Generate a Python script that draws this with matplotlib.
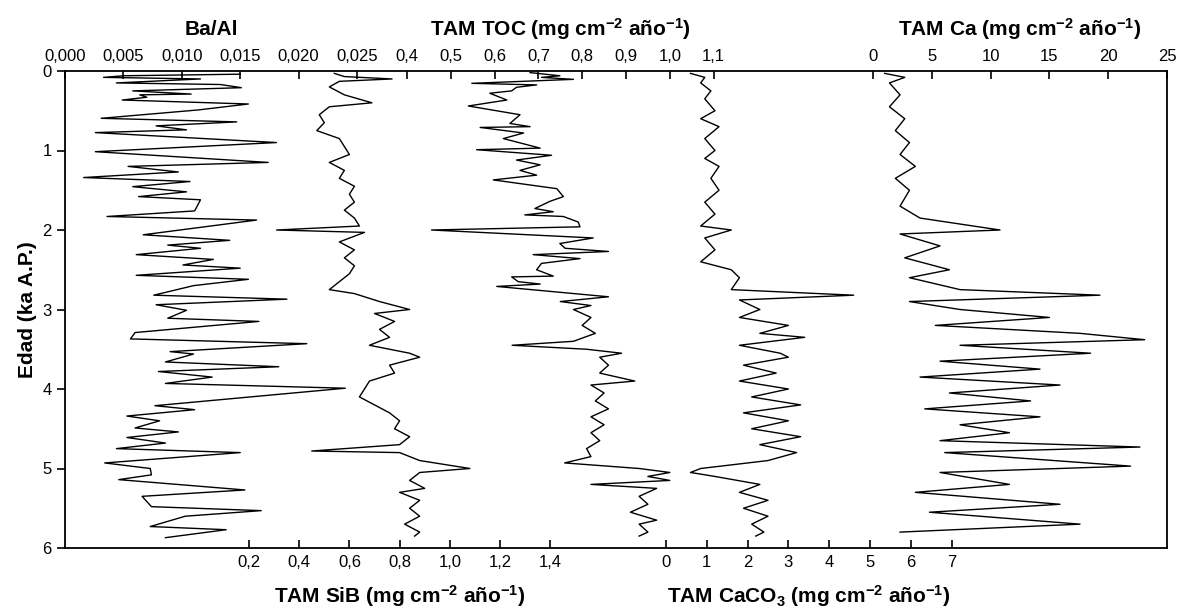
import matplotlib
matplotlib.use("Agg")
from matplotlib import pyplot as plt
from matplotlib.transforms import blended_transform_factory

plt.rcParams['font.family'] = ['Liberation Sans', 'DejaVu Sans']
plt.rcParams['mathtext.fontset'] = 'custom'
plt.rcParams['mathtext.rm'] = 'Liberation Sans:bold'
plt.rcParams['mathtext.it'] = 'Liberation Sans:bold:italic'
plt.rcParams['mathtext.bf'] = 'Liberation Sans:bold'
plt.rcParams['mathtext.default'] = 'rm'

# Ba/Al
baal_age = [0.04, 0.06, 0.08, 0.10, 0.15, 0.17, 0.21, 0.25, 0.29, 0.30, 0.33, 0.365, 0.415, 0.49,
            0.595, 0.64, 0.69, 0.74, 0.775, 0.90, 1.015, 1.15, 1.20, 1.27, 1.34, 1.39, 1.455,
            1.52, 1.58, 1.62, 1.76, 1.83, 1.875, 2.06, 2.13, 2.19, 2.23, 2.31, 2.37, 2.44, 2.48,
            2.57, 2.62, 2.70, 2.82, 2.87, 2.94, 3.01, 3.11, 3.15, 3.29, 3.37, 3.43, 3.53, 3.56,
            3.66, 3.72, 3.78, 3.85, 3.93, 3.99, 4.21, 4.26, 4.34, 4.40, 4.49, 4.54, 4.61, 4.68,
            4.75, 4.80, 4.93, 5.00, 5.08, 5.14, 5.27, 5.35, 5.48, 5.53, 5.60, 5.73, 5.77, 5.87]
baal = [0.0150, 0.0050, 0.0033, 0.0116, 0.0044, 0.0133, 0.0151, 0.0058, 0.0108, 0.0064, 0.0070,
        0.0049, 0.0157, 0.0114, 0.0031, 0.0147, 0.0078, 0.0104, 0.0026, 0.0181, 0.0026, 0.0174,
        0.0054, 0.0097, 0.0016, 0.0107, 0.0058, 0.0104, 0.0063, 0.0116, 0.0111, 0.0036, 0.0164,
        0.0067, 0.0141, 0.0088, 0.0116, 0.0061, 0.0127, 0.0101, 0.0150, 0.0061, 0.0157, 0.0110,
        0.0076, 0.0190, 0.0078, 0.0104, 0.0088, 0.0166, 0.0060, 0.0056, 0.0207, 0.0090, 0.0110,
        0.0086, 0.0183, 0.0080, 0.0126, 0.0086, 0.0240, 0.0077, 0.0111, 0.0053, 0.0081, 0.0060,
        0.0097, 0.0053, 0.0086, 0.0044, 0.0150, 0.0034, 0.0073, 0.0074, 0.0046, 0.0154, 0.0066,
        0.0074, 0.0168, 0.0103, 0.0073, 0.0138, 0.0086]

# TAM TOC
toc_age = [0.02, 0.06, 0.08, 0.105, 0.155, 0.175, 0.205, 0.25, 0.28, 0.365, 0.44, 0.55, 0.66,
           0.70, 0.71, 0.78, 0.85, 0.97, 0.99, 1.06, 1.12, 1.18, 1.25, 1.31, 1.37, 1.48, 1.58,
           1.64, 1.73, 1.77, 1.81, 1.83, 1.90, 1.96, 2.00, 2.10, 2.17, 2.23, 2.27, 2.31, 2.36,
           2.42, 2.50, 2.58, 2.59, 2.65, 2.68, 2.71, 2.84, 2.90, 2.95, 3.00, 3.10, 3.20, 3.30,
           3.40, 3.45, 3.50, 3.55, 3.60, 3.70, 3.80, 3.90, 3.95, 4.05, 4.15, 4.25, 4.35, 4.45,
           4.55, 4.65, 4.75, 4.85, 4.93, 5.00, 5.05, 5.10, 5.15, 5.20, 5.25, 5.35, 5.45, 5.55,
           5.65, 5.70, 5.80, 5.85]
toc = [0.681, 0.749, 0.707, 0.780, 0.548, 0.696, 0.650, 0.639, 0.589, 0.628, 0.540, 0.658,
       0.635, 0.681, 0.567, 0.666, 0.620, 0.704, 0.559, 0.730, 0.650, 0.704, 0.658, 0.696,
       0.597, 0.742, 0.757, 0.726, 0.692, 0.734, 0.669, 0.757, 0.791, 0.795, 0.456, 0.825,
       0.749, 0.761, 0.860, 0.688, 0.795, 0.707, 0.696, 0.734, 0.639, 0.654, 0.704, 0.605,
       0.860, 0.75, 0.82, 0.78, 0.82, 0.80, 0.83, 0.78, 0.64, 0.81, 0.89, 0.84, 0.86, 0.84,
       0.92, 0.82, 0.85, 0.83, 0.86, 0.82, 0.85, 0.82, 0.84, 0.81, 0.82, 0.76, 0.93, 1.00,
       0.95, 1.00, 0.82, 0.97, 0.93, 0.95, 0.91, 0.97, 0.93, 0.95, 0.93]

# TAM Ca
ca_age = [0.03, 0.08, 0.15, 0.3, 0.45, 0.6, 0.75, 0.9, 1.05, 1.2, 1.35, 1.5, 1.7, 1.85, 2.0,
          2.05, 2.2, 2.35, 2.5, 2.6, 2.75, 2.82, 2.9, 3.0, 3.1, 3.2, 3.3, 3.38, 3.45, 3.55,
          3.65, 3.75, 3.85, 3.95, 4.05, 4.15, 4.25, 4.35, 4.45, 4.55, 4.65, 4.73, 4.8, 4.97,
          5.05, 5.2, 5.3, 5.45, 5.55, 5.7, 5.8]
ca = [1.0, 2.7, 1.4, 2.3, 1.4, 2.7, 1.9, 3.1, 2.3, 3.6, 1.9, 3.1, 2.3, 4.0, 10.8, 2.3, 5.7,
      2.7, 6.5, 3.1, 7.4, 19.3, 3.1, 7.4, 15.0, 5.3, 17.6, 23.1, 7.4, 18.5, 5.7, 14.2, 4.0,
      15.9, 6.5, 13.4, 4.4, 14.2, 7.4, 11.6, 5.7, 22.7, 6.1, 21.9, 5.7, 11.6, 3.6, 15.9, 4.8,
      17.6, 2.3]

# TAM SiB
sib_age = [0.03, 0.07, 0.10, 0.13, 0.20, 0.30, 0.40, 0.45, 0.55, 0.65, 0.75, 0.85, 0.95, 1.05,
           1.15, 1.25, 1.35, 1.45, 1.55, 1.65, 1.75, 1.85, 1.95, 2.00, 2.03, 2.15, 2.25, 2.35,
           2.45, 2.55, 2.65, 2.75, 2.80, 2.90, 3.00, 3.05, 3.15, 3.25, 3.35, 3.45, 3.55, 3.60,
           3.70, 3.80, 3.90, 4.00, 4.10, 4.20, 4.30, 4.40, 4.50, 4.60, 4.70, 4.78, 4.80, 4.90,
           5.00, 5.05, 5.15, 5.25, 5.30, 5.40, 5.50, 5.60, 5.70, 5.80, 5.85]
sib = [0.54, 0.58, 0.77, 0.56, 0.52, 0.58, 0.69, 0.52, 0.48, 0.50, 0.47, 0.56, 0.58, 0.60,
       0.52, 0.58, 0.56, 0.62, 0.60, 0.62, 0.58, 0.62, 0.64, 0.31, 0.66, 0.56, 0.62, 0.58,
       0.62, 0.60, 0.56, 0.52, 0.62, 0.72, 0.84, 0.70, 0.78, 0.72, 0.76, 0.68, 0.84, 0.88,
       0.76, 0.78, 0.68, 0.66, 0.64, 0.70, 0.76, 0.80, 0.78, 0.84, 0.80, 0.45, 0.80, 0.88,
       1.08, 0.88, 0.84, 0.90, 0.80, 0.88, 0.84, 0.88, 0.82, 0.88, 0.86]

# TAM CaCO3
caco3_age = [0.03, 0.08, 0.15, 0.25, 0.35, 0.5, 0.6, 0.7, 0.85, 1.0, 1.1, 1.2, 1.35, 1.5, 1.65,
             1.8, 1.95, 2.0, 2.1, 2.25, 2.4, 2.5, 2.6, 2.75, 2.82, 2.88, 3.0, 3.1, 3.2, 3.3,
             3.35, 3.45, 3.55, 3.6, 3.7, 3.8, 3.9, 4.0, 4.1, 4.2, 4.3, 4.4, 4.5, 4.6, 4.7, 4.8,
             4.9, 5.0, 5.05, 5.1, 5.2, 5.3, 5.4, 5.5, 5.6, 5.7, 5.8, 5.85]
caco3 = [0.6, 0.95, 0.85, 1.1, 0.95, 1.2, 0.85, 1.3, 0.95, 1.2, 0.95, 1.3, 1.1, 1.3, 0.95, 1.2,
         0.85, 1.6, 0.95, 1.2, 0.85, 1.6, 1.8, 1.6, 4.6, 1.8, 2.3, 1.8, 3.0, 2.3, 3.4, 1.8, 2.8,
         3.0, 1.9, 2.7, 1.8, 3.0, 2.1, 3.3, 1.9, 3.0, 2.1, 3.3, 2.3, 3.2, 2.5, 0.85, 0.6, 1.2,
         2.3, 1.8, 2.5, 1.9, 2.5, 2.1, 2.4, 2.2]

age_ticks = [0, 1, 2, 3, 4, 5, 6]
baal_ticks = [0.000, 0.005, 0.010, 0.015, 0.020, 0.025]
baal_labels = ['0,000', '0,005', '0,010', '0,015', '0,020', '0,025']
toc_ticks = [0.4, 0.5, 0.6, 0.7, 0.8, 0.9, 1.0, 1.1]
toc_labels = ['0,4', '0,5', '0,6', '0,7', '0,8', '0,9', '1,0', '1,1']
ca_ticks = [0, 5, 10, 15, 20, 25]
ca_labels = ['0', '5', '10', '15', '20', '25']
sib_ticks = [0.2, 0.4, 0.6, 0.8, 1.0, 1.2, 1.4]
sib_labels = ['0,2', '0,4', '0,6', '0,8', '1,0', '1,2', '1,4']
caco3_ticks = [0, 1, 2, 3, 4, 5, 6, 7]
caco3_labels = ['0', '1', '2', '3', '4', '5', '6', '7']

W, H = 1178, 610
L, R, T, B = 65, 1167, 71, 548


def lims(v0, p0, k):
    # value v0 sits at pixel p0, k pixels per unit
    return (v0 + (L - p0) / k, v0 + (R - p0) / k)


fig = plt.figure(figsize=(W / 100, H / 100), dpi=100)
ax = fig.add_axes([L / W, 1 - B / H, (R - L) / W, (B - T) / H])
ax.set_ylim(6, 0)
ax.set_yticks(age_ticks)
ax.set_ylabel('Edad (ka A.P.)', fontsize=15, fontweight='bold', labelpad=4)
ax.tick_params(axis='y', direction='out', length=6, width=1.2, labelsize=12)
for s in ax.spines.values():
    s.set_linewidth(1.3)

ax.plot(baal, baal_age, color='black', lw=1.0)
ax.set_xlim(*lims(0.0, 65, 11680))


def twin(pos, xl, ticks, labels):
    t = ax.twiny()
    for s in t.spines.values():
        s.set_visible(False)
    t.set_xlim(*xl)
    t.xaxis.set_ticks_position(pos)
    t.xaxis.set_label_position(pos)
    t.set_xticks(ticks)
    t.set_xticklabels(labels)
    t.tick_params(axis='x', direction='in', length=6, width=1.2, labelsize=12, pad=5)
    return t


tw_toc = twin('top', lims(0.4, 407, 438), toc_ticks, toc_labels)
tw_toc.plot(toc, toc_age, color='black', lw=1.0)
tw_ca = twin('top', lims(0, 873, 11.76), ca_ticks, ca_labels)
tw_ca.plot(ca, ca_age, color='black', lw=1.0)
tw_sib = twin('bottom', lims(0.2, 249, 251), sib_ticks, sib_labels)
tw_sib.plot(sib, sib_age, color='black', lw=1.0)
tw_cc = twin('bottom', lims(0, 666, 40.8), caco3_ticks, caco3_labels)
tw_cc.plot(caco3, caco3_age, color='black', lw=1.0)

# twiny() pushes the host ticks to the bottom, so put Ba/Al back on top afterwards
ax.xaxis.set_ticks_position('top')
ax.set_xticks(baal_ticks)
ax.set_xticklabels(baal_labels)
ax.tick_params(axis='x', direction='in', length=6, width=1.2, labelsize=12, pad=5,
               top=True, bottom=False, labeltop=True, labelbottom=False)


def title(t, x, y, s):
    tr = blended_transform_factory(t.transData, t.transAxes)
    t.text(x, y, s, transform=tr, ha='center', va='center', fontsize=15, fontweight='bold')


title(ax, 0.0125, 1.088, 'Ba/Al')
title(tw_toc, 0.75, 1.088, 'TAM TOC (mg cm$^{-2}$ año$^{-1}$)')
title(tw_ca, 12.5, 1.088, 'TAM Ca (mg cm$^{-2}$ año$^{-1}$)')
title(tw_sib, 0.8, -0.100, 'TAM SiB (mg cm$^{-2}$ año$^{-1}$)')
title(tw_cc, 3.5, -0.100, 'TAM CaCO$_3$ (mg cm$^{-2}$ año$^{-1}$)')

fig.savefig('out.png', dpi=100)
